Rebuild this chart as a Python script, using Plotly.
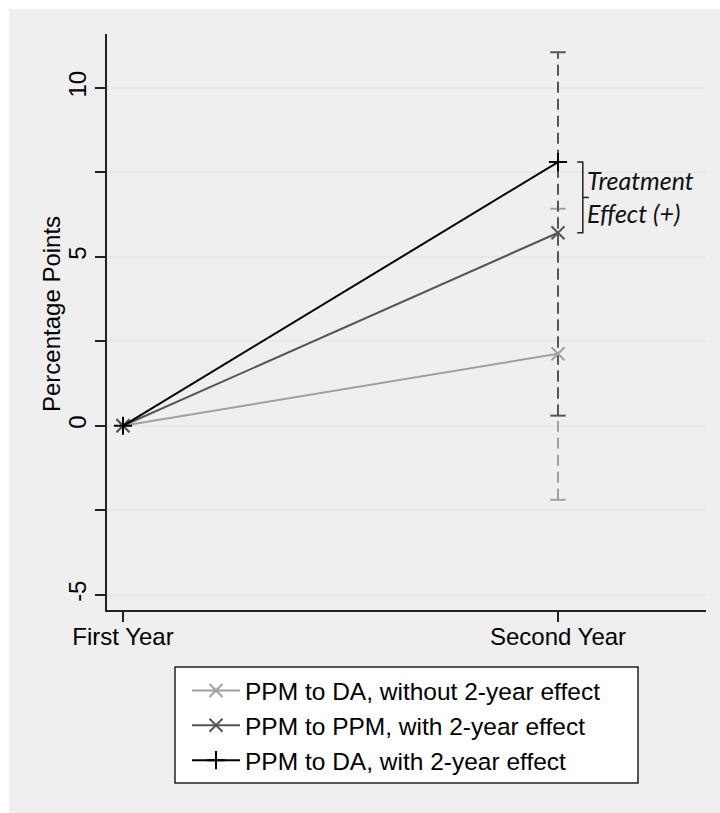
import plotly.graph_objects as go

# Periods on the x axis
periods = ["First Year", "Second Year"]
period_pos = [1, 2]

# Estimated changes (percentage points) for each comparison
series_names = [
    "PPM to DA, without 2-year effect",
    "PPM to PPM, with 2-year effect",
    "PPM to DA, with 2-year effect",
]
da_without = [0.0, 2.13]
ppm_with = [0.0, 5.71]
da_with = [0.0, 7.80]

# 95% confidence intervals in the second year
ci_da_without = [-2.19, 6.42]
ci_ppm_with = [0.30, 11.05]

# Y axis ticks
y_ticks = [-5, -2.5, 0, 2.5, 5, 7.5, 10]
y_ticktext = ["-5", "", "0", "", "5", "", "10"]

LIGHT = "#a0a0a0"
DARK = "#555555"
BLACK = "#000000"
FONT = "Liberation Sans"

# Pixel geometry of the plot area
L, R, T, B = 107, 706, 34, 610
W_PLOT, H_PLOT = R - L, B - T


def px_x(px):
    return (px - L) / W_PLOT


def px_y(py):
    return (B - py) / H_PLOT


fig = go.Figure()

# Confidence intervals: dashed vertical lines with caps
for ci, col in [(ci_da_without, LIGHT), (ci_ppm_with, DARK)]:
    fig.add_trace(go.Scatter(
        x=[period_pos[1], period_pos[1]], y=ci, mode="lines",
        line=dict(color=col, width=2, dash="11px,6px"),
        showlegend=False, hoverinfo="skip"))
    fig.add_trace(go.Scatter(
        x=[period_pos[1], period_pos[1]], y=ci, mode="markers",
        marker=dict(symbol="line-ew", size=11, line=dict(color=col, width=2)),
        showlegend=False, hoverinfo="skip"))

# Point estimates
styles = [
    (da_without, LIGHT, "x-thin"),
    (ppm_with, DARK, "x-thin"),
    (da_with, BLACK, "cross-thin"),
]
for name, (vals, col, sym) in zip(series_names, styles):
    fig.add_trace(go.Scatter(
        x=period_pos, y=vals, mode="lines+markers", name=name,
        line=dict(color=col, width=2),
        marker=dict(symbol=sym, size=13, color=col, line=dict(color=col, width=2))))

# Bracket marking the treatment effect between the two "with" series
top, bot = da_with[1], ppm_with[1]
bx0, bx1, bx2 = 2.044, 2.057, 2.071
fig.add_trace(go.Scatter(
    x=[bx0, bx1, bx1, bx0, None, bx1, bx2],
    y=[top, top, bot, bot, None, (top + bot) / 2, (top + bot) / 2],
    mode="lines", line=dict(color="#222222", width=1.5),
    showlegend=False, hoverinfo="skip"))
fig.add_annotation(
    x=2.062, y=(top + bot) / 2 + 0.02, xref="x", yref="y",
    text="<i>Treatment<br>Effect (+)</i>", showarrow=False,
    xanchor="left", yanchor="middle", align="left",
    font=dict(family="Lato", size=25, color="#111111"))

# Y axis title
fig.add_annotation(
    x=px_x(51), y=px_y(314), xref="paper", yref="paper",
    text="Percentage Points", textangle=-90, showarrow=False,
    xanchor="center", yanchor="middle",
    font=dict(family=FONT, size=24, color="black"))

# Grey outer panel
fig.add_shape(
    type="rect", xref="paper", yref="paper", layer="below",
    x0=px_x(9), x1=px_x(730), y0=px_y(830), y1=px_y(9),
    fillcolor="#efefef", line=dict(width=0))

# Legend frame
fig.add_shape(
    type="rect", xref="paper", yref="paper", layer="below",
    x0=px_x(175), x1=px_x(638), y0=px_y(783), y1=px_y(667),
    fillcolor="white", line=dict(color="#222222", width=1.5))

fig.update_layout(
    width=720, height=813,
    margin=dict(l=L, r=720 - R, t=T, b=813 - B),
    paper_bgcolor="white", plot_bgcolor="white",
    font=dict(family=FONT, size=24, color="black"),
    showlegend=True,
    legend=dict(
        x=px_x(187), y=px_y(668),
        xanchor="left", yanchor="top",
        bgcolor="rgba(0,0,0,0)", borderwidth=0,
        font=dict(family=FONT, size=24.5, color="black"),
        itemwidth=48, tracegroupgap=0),
    xaxis=dict(
        range=[1 - 16 / 435, 2 + 148 / 435],
        tickvals=period_pos, ticktext=periods,
        ticks="outside", ticklen=10, tickwidth=1.5, tickcolor="#222222",
        showline=True, linecolor="#222222", linewidth=1.5,
        showgrid=False, zeroline=False, ticklabelstandoff=-6,
        tickfont=dict(family=FONT, size=24)),
    yaxis=dict(
        range=[-5.45, 11.59],
        tickvals=y_ticks, ticktext=y_ticktext, tickangle=-90,
        ticks="outside", ticklen=10, tickwidth=1.5, tickcolor="#222222",
        showline=True, linecolor="#222222", linewidth=1.5,
        showgrid=True, gridcolor="#e8e8e8", gridwidth=1.5,
        zeroline=False,
        tickfont=dict(family=FONT, size=24)),
)

fig.write_html("out.html")
